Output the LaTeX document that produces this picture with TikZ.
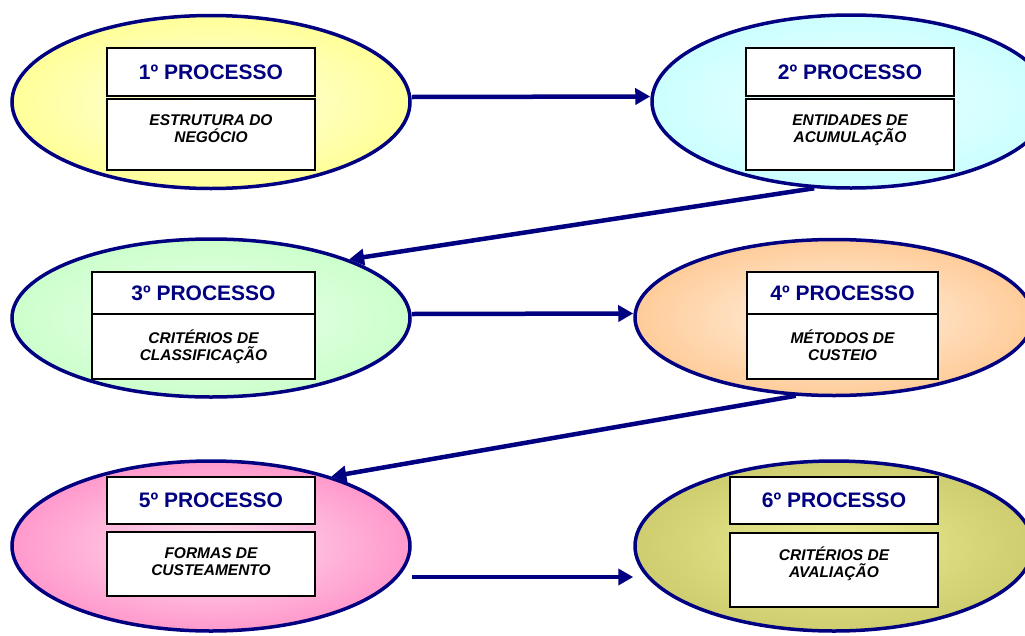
\documentclass[tikz,border=0pt]{standalone}
\usepackage{fontspec}
\setmainfont{Liberation Sans}
\usetikzlibrary{arrows.meta,positioning,shapes.geometric}

\definecolor{navyline}{RGB}{0,0,128}
\definecolor{procyellow}{RGB}{255,255,153}
\definecolor{proccyan}{RGB}{204,255,255}
\definecolor{procgreen}{RGB}{204,255,204}
\definecolor{procpeach}{RGB}{255,204,153}
\definecolor{procpink}{RGB}{255,153,204}
\definecolor{procolive}{RGB}{206,206,112}
\definecolor{procolivein}{RGB}{236,236,146}

\tikzset{
  proc/.style={ellipse, draw=navyline, line width=3.5pt, minimum width=398pt, inner sep=0pt},
  titlebox/.style={draw, line width=1.2pt, fill=white, minimum width=208pt, minimum height=48pt,
    inner sep=0pt, outer sep=0pt, text=navyline, font=\fontsize{21}{24}\selectfont\bfseries},
  subbox/.style={draw, line width=1.2pt, fill=white, minimum width=208pt, minimum height=71pt,
    inner sep=0pt, outer sep=0pt},
  subtext/.style={inner sep=0pt, align=center, font=\fontsize{15.5}{17}\selectfont\bfseries\itshape,
    execute at begin node={\vphantom{É}}},
  flow/.style={draw=navyline, line width=4.5pt, -{Triangle[length=15pt,width=16pt]}},
}

\begin{document}
\begin{tikzpicture}[x=1pt, y=-1pt]
  \useasboundingbox (0,0) rectangle (1025,635);
  \clip (0,0) rectangle (1025,635);

  % the six processes
  \node[proc, minimum height=173pt, inner color=procyellow!25!white, outer color=procyellow] (e1) at (211,102) {};
  \node[proc, minimum height=173pt, inner color=proccyan!35!white, outer color=proccyan] (e2) at (851,101.5) {};
  \node[proc, minimum height=158pt, inner color=procgreen!35!white, outer color=procgreen] (e3) at (211,318) {};
  \node[proc, minimum height=156pt, inner color=procpeach!25!white, outer color=procpeach] (e4) at (834,317.5) {};
  \node[proc, minimum height=170pt, inner color=procpink!30!white, outer color=procpink] (e5) at (211,546) {};
  \node[proc, minimum height=170pt, inner color=procolivein, outer color=procolive] (e6) at (834,546) {};

  % boxes
  \node[titlebox] (t1) at (211,72) {1º PROCESSO};
  \node[subbox, below=3pt of t1] (s1) {};
  \node[subtext, below=15.5pt of s1.north] {ESTRUTURA DO\\NEGÓCIO};

  \node[titlebox] (t2) at (850,72) {2º PROCESSO};
  \node[subbox, below=3pt of t2] (s2) {};
  \node[subtext, below=15.5pt of s2.north] {ENTIDADES DE\\ACUMULAÇÃO};

  \node[titlebox, minimum width=223pt, minimum height=42pt] (t3) at (203.5,293) {3º PROCESSO};
  \node[subbox, minimum width=223pt, minimum height=65pt, below=0pt of t3] (s3) {};
  \node[subtext, below=15.5pt of s3.north] {CRITÉRIOS DE\\CLASSIFICAÇÃO};

  \node[titlebox, minimum width=191pt, minimum height=42pt] (t4) at (842.5,293) {4º PROCESSO};
  \node[subbox, minimum width=191pt, minimum height=65pt, below=0pt of t4] (s4) {};
  \node[subtext, below=15.5pt of s4.north] {MÉTODOS DE\\CUSTEIO};

  \node[titlebox, minimum height=47pt] (t5) at (211,500.5) {5º PROCESSO};
  \node[subbox, minimum height=64pt, below=8pt of t5] (s5) {};
  \node[subtext, below=15.5pt of s5.north] {FORMAS DE\\CUSTEAMENTO};

  \node[titlebox, minimum height=47pt] (t6) at (834,500.5) {6º PROCESSO};
  \node[subbox, minimum height=74pt, below=9pt of t6] (s6) {};
  \node[subtext, below=14pt of s6.north] {CRITÉRIOS DE\\AVALIAÇÃO};

  % flow between processes
  \draw[flow] ([yshift=5pt]e1.east) -- ([yshift=5pt]e2.west);
  \draw[flow] (e2.247) -- (e3.23);
  \draw[flow] ([yshift=4pt]e3.east) -- ([yshift=4pt]e4.west);
  \draw[flow] (e4.244) -- (e5.30);
  \draw[flow] ([yshift=-31pt]e5.east) -- ([yshift=-31pt]e6.west);
\end{tikzpicture}
\end{document}
